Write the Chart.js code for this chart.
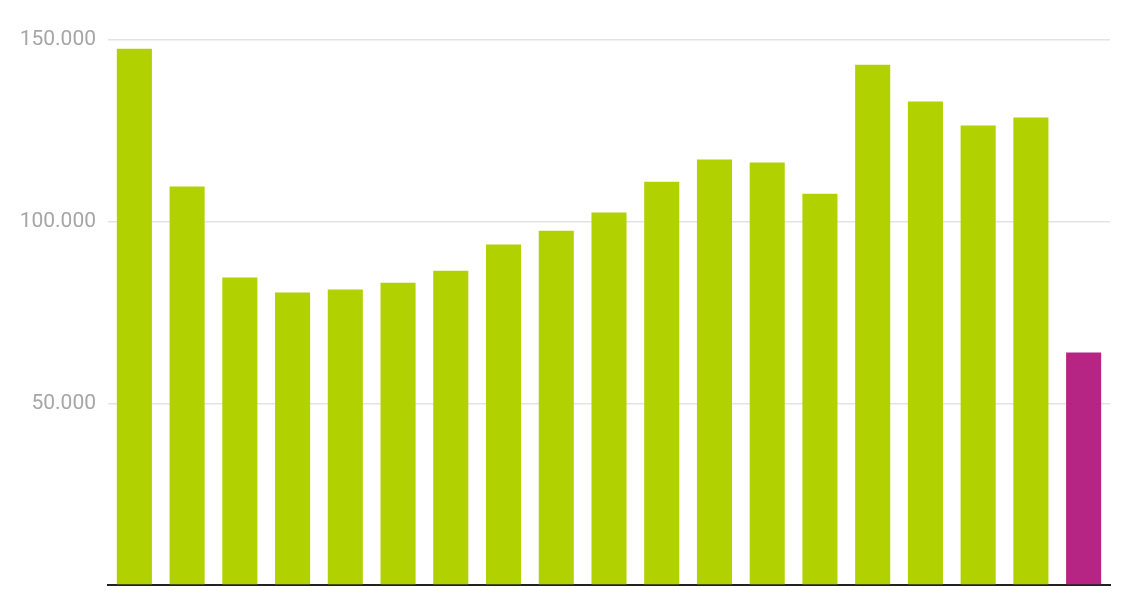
<!DOCTYPE html>
<html>
<head>
<meta charset="utf-8">
<script src="https://cdn.jsdelivr.net/npm/chart.js@4/dist/chart.umd.min.js"></script>
<style>
html,body{margin:0;padding:0;background:#fff;overflow:hidden;}
canvas{display:block;}
</style>
</head>
<body>
<canvas id="c" width="1128" height="591"></canvas>
<script>
const categories = ["1","2","3","4","5","6","7","8","9","10","11","12","13","14","15","16","17","18","19"];
const values = [147600,109700,84600,80500,81300,83200,86500,93700,97500,102500,111000,117100,116300,107700,143200,133100,126500,128700,64000];
const barColors = ["#b2d100","#b2d100","#b2d100","#b2d100","#b2d100","#b2d100","#b2d100","#b2d100","#b2d100","#b2d100","#b2d100","#b2d100","#b2d100","#b2d100","#b2d100","#b2d100","#b2d100","#b2d100","#b62584"];
const yTicks = [0,50000,100000,150000];

new Chart(document.getElementById('c'), {
  type: 'bar',
  data: {
    labels: categories,
    datasets: [{
      data: values,
      backgroundColor: barColors,
      borderWidth: 0,
      categoryPercentage: 1,
      barPercentage: 0.665
    }]
  },
  options: {
    responsive: false,
    animation: false,
    layout: {padding: {top: 40, right: 18, bottom: 6, left: 0}},
    plugins: {legend: {display: false}, tooltip: {enabled: false}},
    scales: {
      x: {
        grid: {display: false, drawTicks: false},
        border: {display: true, color: '#222', width: 2},
        ticks: {display: false},
        afterFit: (s) => { s.height = 0; s.paddingLeft = 0; s.paddingRight = 0; }
      },
      y: {
        min: 0, max: 150000,
        afterBuildTicks: (s) => { s.ticks = yTicks.map(v => ({value: v})); },
        afterFit: (s) => { s.width = 108; s.paddingTop = 0; s.paddingBottom = 0; },
        grid: {color: '#e3e3e3', lineWidth: 1.5, drawTicks: false},
        border: {display: false},
        ticks: {
          padding: 12,
          color: '#a6a6a6',
          font: {family: 'Roboto', size: 21},
          callback: (v) => v === 0 ? '' : v.toLocaleString('de-DE')
        }
      }
    }
  }
});
</script>
</body>
</html>
